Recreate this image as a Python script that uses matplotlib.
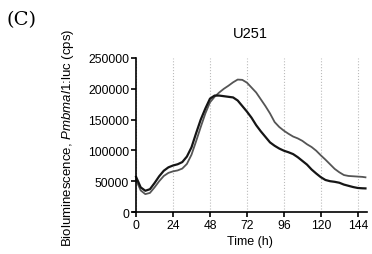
import matplotlib
matplotlib.use('Agg')
from matplotlib import pyplot as plt

# time points (h) and bioluminescence (cps)
hours = [0, 3, 6, 9, 12, 15, 18, 21, 24, 27, 30, 33, 36, 39, 42, 45, 48, 51, 54,
         57, 60, 63, 66, 69, 72, 75, 78, 81, 84, 87, 90, 93, 96, 99, 102, 105,
         108, 111, 114, 117, 120, 123, 126, 129, 132, 135, 138, 141, 144, 147, 149]
dark = [57000, 40000, 34500, 37000, 47000, 58000, 67000, 72500, 75500, 77500,
        81000, 90000, 105000, 128000, 150000, 168000, 184000, 189000, 189000,
        188000, 187000, 186000, 181000, 172000, 163000, 153000, 141000, 131000,
        122000, 113000, 107500, 103000, 99500, 97000, 94000, 89000, 83000, 77000,
        69000, 62500, 56500, 52000, 50000, 49000, 47500, 44500, 42500, 40500,
        39000, 38500, 38300]
grey = [52000, 35000, 29000, 31000, 40000, 50000, 58500, 63500, 66000, 67500,
        70500, 78000, 93000, 115000, 138000, 160000, 178000, 187000, 194000,
        200000, 205000, 210500, 215000, 214500, 210000, 202000, 194000, 183000,
        172000, 160000, 146000, 138000, 132000, 127000, 122500, 119500, 115500,
        110000, 105500, 99500, 92000, 85000, 77500, 70000, 64500, 60000, 58500,
        58000, 57500, 57000, 56300]

xticks = [0, 24, 48, 72, 96, 120, 144]
yticks = [0, 50000, 100000, 150000, 200000, 250000]

plt.rcParams['font.family'] = ['Liberation Sans', 'DejaVu Sans']
plt.rcParams['mathtext.fontset'] = 'custom'
plt.rcParams['mathtext.it'] = 'Liberation Sans:italic'
plt.rcParams['mathtext.rm'] = 'Liberation Sans'

fig = plt.figure(figsize=(3.72, 2.55), dpi=100)
ax = fig.add_axes([133/372, 1 - 213/255, (367-133)/372, (213-59)/255])

ax.plot(hours, grey, color='#555555', linewidth=1.3)
ax.plot(hours, dark, color='#151515', linewidth=1.6)

ax.set_xlim(-2, 150)
ax.set_ylim(0, 250000)
ax.set_xticks(xticks)
ax.set_yticks(yticks)
ax.set_yticklabels([str(v) for v in yticks])

ax.xaxis.grid(True, linestyle=':', color='#bbbbbb', linewidth=0.8)
ax.set_axisbelow(True)

for s in ['top', 'right']:
    ax.spines[s].set_visible(False)
ax.spines['left'].set_position(('data', 0))
ax.spines['left'].set_linewidth(1.2)
ax.spines['bottom'].set_linewidth(1.2)
ax.tick_params(axis='both', labelsize=8.7, length=3.5, width=1.2, pad=1.5)

ax.set_title('U251', fontsize=10.5, pad=15)
ax.set_xlabel('Time (h)', fontsize=9, labelpad=3)
ax.set_ylabel(r'Bioluminescence, $\mathit{Pmbmal1}$:luc (cps)', fontsize=9.5)
ax.yaxis.set_label_coords(-0.245, 0.49)

fig.text(7/372, 1 - 20/255, '(C)', fontsize=14, family='DejaVu Serif', va='center')

fig.savefig('out.png', dpi=100)
